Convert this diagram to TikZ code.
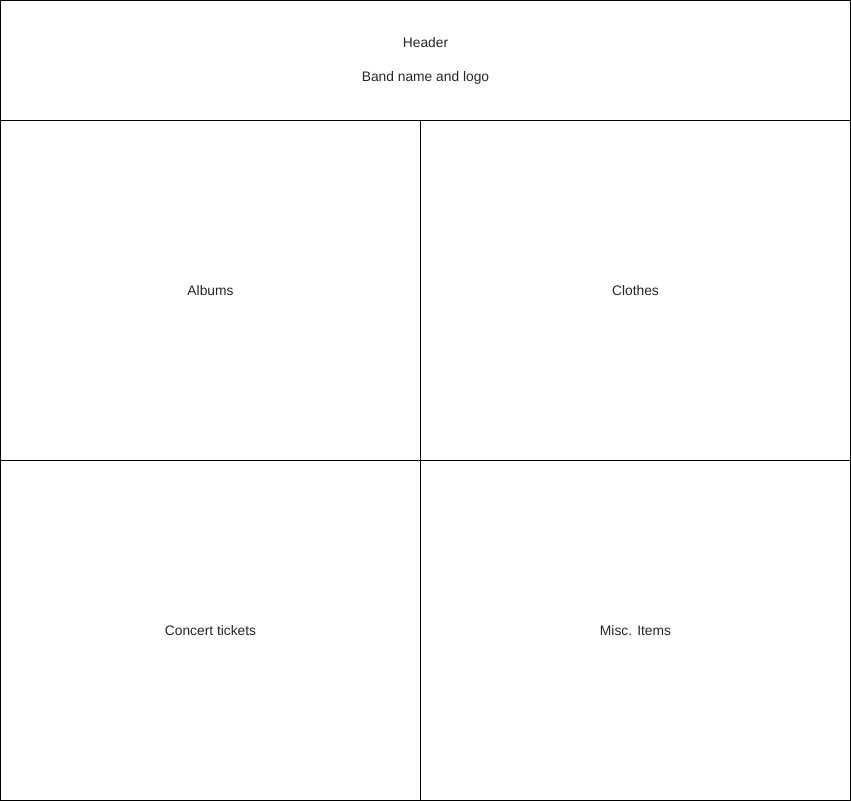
\documentclass[tikz,border=0pt]{standalone}
\usepackage{fontspec}
\setmainfont{Liberation Sans}
\begin{document}
\begin{tikzpicture}[x=1pt,y=-1pt,line join=round,line width=0.9pt,font=\fontsize{13.8}{16}\selectfont]
	% Frame
	\def\xmid{420}
	\def\xmax{850}
	\def\yhead{120}
	\def\ymid{460}
	\def\ymax{800}
	\tikzset{cell/.style={draw,anchor=north west,inner sep=0pt,outer sep=0pt,text=black!85}}
	\useasboundingbox (0,0) rectangle (851,801);
	\node [cell,minimum width=\xmax pt,minimum height=\yhead pt,align=center] (header) at (0.5,0.5) {Header\\[18pt]Band name and logo};
	\node [cell,minimum width=\xmid pt,minimum height=340pt] (albums) at (0.5,\yhead+0.5) {Albums};
	\node [cell,minimum width=430pt,minimum height=340pt] (clothes) at (\xmid+0.5,\yhead+0.5) {Clothes};
	\node [cell,minimum width=\xmid pt,minimum height=340pt] (tickets) at (0.5,\ymid+0.5) {Concert tickets};
	\node [cell,minimum width=430pt,minimum height=340pt] (misc) at (\xmid+0.5,\ymid+0.5) {Misc. Items};
\end{tikzpicture}
\end{document}
